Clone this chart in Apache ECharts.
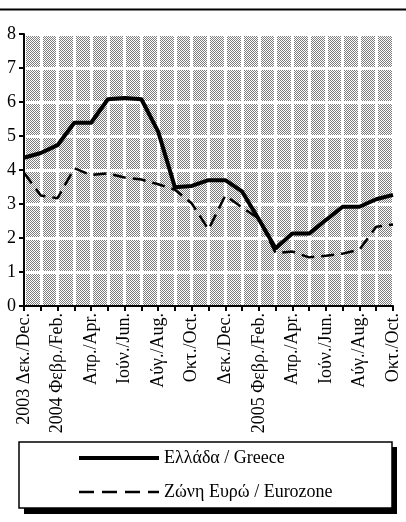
<!DOCTYPE html>
<html>
<head>
<meta charset="utf-8">
<script src="https://cdn.jsdelivr.net/npm/echarts@6/dist/echarts.min.js"></script>
<style>
  html, body { margin: 0; padding: 0; background: #fff; }
  #chart { width: 406px; height: 522px; }
</style>
</head>
<body>
<div id="chart"></div>
<script>
// months Dec 2003 .. Oct 2005 (labels shown every second month)
var months = [
    '2003 Δεκ./Dec.', 'Ιαν./Jan.', '2004 Φεβρ./Feb.', 'Μάρ./Mar.', 'Απρ./Apr.', 'Μάιος/May',
    'Ιούν./Jun.', 'Ιούλ./Jul.', 'Αύγ./Aug.', 'Σεπτ./Sep.', 'Οκτ./Oct.', 'Νοέμ./Nov.',
    'Δεκ./Dec.', 'Ιαν./Jan.', '2005 Φεβρ./Feb.', 'Μάρ./Mar.', 'Απρ./Apr.', 'Μάιος/May',
    'Ιούν./Jun.', 'Ιούλ./Jul.', 'Αύγ./Aug.', 'Σεπτ./Sep.', 'Οκτ./Oct.'
];
var greece = [4.36, 4.5, 4.73, 5.39, 5.39, 6.08, 6.12, 6.08, 5.13, 3.49, 3.53, 3.7,
              3.7, 3.37, 2.55, 1.7, 2.13, 2.13, 2.53, 2.92, 2.92, 3.14, 3.27];
var eurozone = [3.92, 3.25, 3.17, 4.05, 3.85, 3.9, 3.78, 3.72, 3.58, 3.42, 3.02, 2.25,
                3.25, 2.9, 2.57, 1.56, 1.6, 1.43, 1.48, 1.54, 1.66, 2.33, 2.4];
var seriesNames = ['Ελλάδα / Greece', 'Ζώνη Ευρώ / Eurozone'];
var yTicks = [0, 1, 2, 3, 4, 5, 6, 7, 8];

// dotted fill used behind the plot
var pc = document.createElement('canvas');
pc.width = 2; pc.height = 2;
var pctx = pc.getContext('2d');
pctx.fillStyle = '#ffffff';
pctx.fillRect(0, 0, 2, 2);
pctx.fillStyle = '#7c7c7c';
pctx.fillRect(0, 0, 1, 1);
pctx.fillRect(1, 1, 1, 1);

var chart = echarts.init(document.getElementById('chart'), null, { renderer: 'canvas' });

var font = 'Liberation Serif';

var option = {
    animation: false,
    backgroundColor: '#fff',
    grid: {
        left: 24, right: 13, top: 34, bottom: 216,
        show: true,
        backgroundColor: { image: pc, repeat: 'repeat' },
        borderWidth: 0
    },
    xAxis: {
        type: 'category',
        data: months,
        boundaryGap: false,
        axisLine: { lineStyle: { color: '#000', width: 2 } },
        axisTick: { show: true, interval: 0, length: 5, lineStyle: { color: '#000', width: 2 } },
        axisLabel: {
            interval: 1,
            rotate: 90,
            margin: 7,
            color: '#000',
            fontFamily: font,
            fontSize: 18
        },
        splitLine: { show: true, interval: 0, lineStyle: { color: '#fff', width: 3 } }
    },
    yAxis: {
        type: 'value',
        min: yTicks[0],
        max: yTicks[yTicks.length - 1],
        interval: 1,
        axisLine: { show: true, lineStyle: { color: '#000', width: 2 } },
        axisTick: { show: true, length: 5, lineStyle: { color: '#000', width: 2 } },
        axisLabel: { color: '#000', fontFamily: font, fontSize: 18, margin: 8 },
        splitLine: { show: true, lineStyle: { color: '#fff', width: 3 } }
    },
    legend: {
        orient: 'vertical',
        left: 77,
        top: 449,
        padding: 0,
        itemWidth: 80,
        itemHeight: 14,
        itemGap: 16,
        textStyle: { color: '#000', fontFamily: font, fontSize: 18 },
        itemStyle: { opacity: 0 },
        data: [
            { name: seriesNames[0], lineStyle: { width: 4 } },
            { name: seriesNames[1], lineStyle: { width: 2.5, type: [15, 8] } }
        ]
    },
    graphic: [
        { type: 'line', shape: { x1: 0, y1: 9.5, x2: 406, y2: 9.5 }, style: { stroke: '#000', lineWidth: 2 } },
        { type: 'rect', z: -10, shape: { x: 24, y: 447, width: 373, height: 67 }, style: { fill: '#000' } },
        { type: 'rect', z: -9, shape: { x: 19, y: 442, width: 373, height: 66 }, style: { fill: '#fff', stroke: '#000', lineWidth: 1.5 } }
    ],
    series: [
        {
            name: seriesNames[0],
            type: 'line',
            data: greece,
            symbol: 'none',
            z: 4,
            lineStyle: { color: '#000', width: 4, join: 'round' },
            itemStyle: { color: '#000' }
        },
        {
            name: seriesNames[1],
            type: 'line',
            data: eurozone,
            symbol: 'none',
            z: 3,
            lineStyle: { color: '#000', width: 2.5, type: [13, 7] },
            itemStyle: { color: '#000' }
        }
    ]
};

chart.setOption(option);
</script>
</body>
</html>
